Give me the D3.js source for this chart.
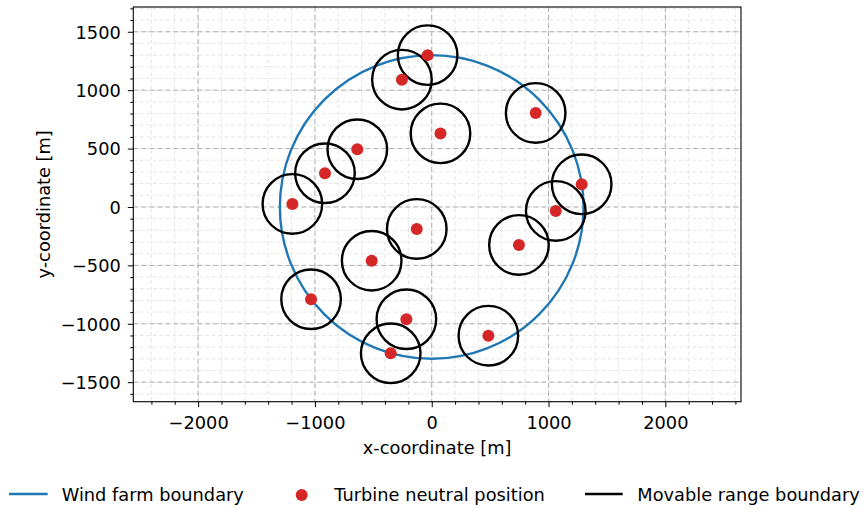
<!DOCTYPE html>
<html>
<head>
<meta charset="utf-8">
<script src="https://cdn.jsdelivr.net/npm/d3@7"></script>
<style>
  html, body { margin: 0; padding: 0; background: #fff; }
  svg { display: block; font-family: "DejaVu Sans", sans-serif; }
</style>
</head>
<body>
<svg id="chart" width="865" height="509"></svg>
<script>
// ---- data ----
const turbineX = [-35, -255, 75, 890, -637, -914, -1193, 1284, 1062, 747, -128, -514, -1033, -217, -351, 485];
const turbineY = [1300, 1090, 630, 805, 494, 289, 26, 194, -34, -325, -188, -460, -790, -961, -1253, -1102];
const boundaryCenter = [0, 0];
const boundaryRadius = 1300;
const movableRadius = 255;
const xTicks = [-2000, -1000, 0, 1000, 2000];
const yTicks = [-1500, -1000, -500, 0, 500, 1000, 1500];
const xDomain = [-2555, 2648];
const yDomain = [-1667, 1712];
const legendLabels = ["Wind farm boundary", "Turbine neutral position", "Movable range boundary"];
const xLabel = "x-coordinate [m]";
const yLabel = "y-coordinate [m]";

// ---- layout ----
const svg = d3.select("#chart");
const L = 133.3, T = 7, R = 741, B = 401.7;
const x = d3.scaleLinear().domain(xDomain).range([L, R]);
const y = d3.scaleLinear().domain(yDomain).range([B, T]);
const blue = "#1f77b4", red = "#d62728";
const fs = 17.8;

const xMinor = d3.range(Math.ceil(xDomain[0] / 200) * 200, xDomain[1], 200);
const yMinor = d3.range(Math.ceil(yDomain[0] / 100) * 100, yDomain[1], 100);

svg.append("defs").append("clipPath").attr("id", "clip")
  .append("rect").attr("x", L).attr("y", T).attr("width", R - L).attr("height", B - T);

const grid = svg.append("g");
grid.selectAll(".mgx").data(xMinor).enter().append("line")
  .attr("x1", d => x(d)).attr("x2", d => x(d)).attr("y1", T).attr("y2", B)
  .attr("stroke", "#e4e4e4").attr("stroke-width", 0.9).attr("stroke-dasharray", "4,2.5");
grid.selectAll(".mgy").data(yMinor).enter().append("line")
  .attr("y1", d => y(d)).attr("y2", d => y(d)).attr("x1", L).attr("x2", R)
  .attr("stroke", "#e4e4e4").attr("stroke-width", 0.9).attr("stroke-dasharray", "4,2.5");
grid.selectAll(".gx").data(xTicks).enter().append("line")
  .attr("x1", d => x(d)).attr("x2", d => x(d)).attr("y1", T).attr("y2", B)
  .attr("stroke", "#b0b0b0").attr("stroke-width", 1).attr("stroke-dasharray", "5,3");
grid.selectAll(".gy").data(yTicks).enter().append("line")
  .attr("y1", d => y(d)).attr("y2", d => y(d)).attr("x1", L).attr("x2", R)
  .attr("stroke", "#b0b0b0").attr("stroke-width", 1).attr("stroke-dasharray", "5,3");

const plot = svg.append("g").attr("clip-path", "url(#clip)");
plot.append("circle")
  .attr("cx", x(boundaryCenter[0])).attr("cy", y(boundaryCenter[1]))
  .attr("r", x(boundaryRadius) - x(0))
  .attr("fill", "none").attr("stroke", blue).attr("stroke-width", 2.4);

const turbines = turbineX.map((v, i) => ({ x: v, y: turbineY[i] }));
plot.selectAll(".mr").data(turbines).enter().append("circle")
  .attr("cx", d => x(d.x)).attr("cy", d => y(d.y))
  .attr("r", x(movableRadius) - x(0))
  .attr("fill", "none").attr("stroke", "#000").attr("stroke-width", 2.4);
plot.selectAll(".tb").data(turbines).enter().append("circle")
  .attr("cx", d => x(d.x)).attr("cy", d => y(d.y)).attr("r", 6)
  .attr("fill", red);

const fmt = d => d3.format("d")(d).replace("-", "\u2212");
const xAxis = d3.axisBottom(x).tickValues(xTicks).tickSize(5.5).tickPadding(5).tickFormat(fmt);
const yAxis = d3.axisLeft(y).tickValues(yTicks).tickSize(5.5).tickPadding(5).tickFormat(fmt);
const xMinorAxis = d3.axisBottom(x).tickValues(xMinor.filter(v => xTicks.indexOf(v) < 0)).tickSize(3).tickFormat("");
const yMinorAxis = d3.axisLeft(y).tickValues(yMinor.filter(v => yTicks.indexOf(v) < 0)).tickSize(3).tickFormat("");

function styleAxis(g) {
  g.select(".domain").remove();
  g.selectAll("line").attr("stroke", "#000").attr("stroke-width", 1);
  g.selectAll("text").attr("fill", "#000").attr("font-size", fs).attr("font-family", "DejaVu Sans");
}
svg.append("g").attr("transform", `translate(0,${B})`).call(xMinorAxis).call(styleAxis);
svg.append("g").attr("transform", `translate(${L},0)`).call(yMinorAxis).call(styleAxis);
const gx = svg.append("g").attr("transform", `translate(0,${B})`).call(xAxis).call(styleAxis);
gx.selectAll("text").attr("dy", null).attr("y", 27.6);
const gy = svg.append("g").attr("transform", `translate(${L},0)`).call(yAxis).call(styleAxis);
gy.selectAll("text").attr("dy", "0.36em").attr("x", -12.5);

svg.append("rect").attr("x", L).attr("y", T).attr("width", R - L).attr("height", B - T)
  .attr("fill", "none").attr("stroke", "#000").attr("stroke-width", 1.1);

svg.append("text").attr("x", (L + R) / 2).attr("y", 453.5).attr("text-anchor", "middle")
  .attr("font-size", fs).attr("fill", "#000").text(xLabel);
svg.append("text").attr("transform", `translate(50,${(T + B) / 2}) rotate(-90)`)
  .attr("text-anchor", "middle").attr("font-size", fs).attr("fill", "#000").text(yLabel);

const lg = svg.append("g");
const ly = 494;
lg.append("line").attr("x1", 9).attr("x2", 47.7).attr("y1", ly).attr("y2", ly)
  .attr("stroke", blue).attr("stroke-width", 2.4);
lg.append("text").attr("x", 61.7).attr("y", 501).attr("font-size", fs).attr("fill", "#000").text(legendLabels[0]);
lg.append("circle").attr("cx", 301.7).attr("cy", ly + 1).attr("r", 6).attr("fill", red);
lg.append("text").attr("x", 334.3).attr("y", 501).attr("font-size", fs).attr("fill", "#000").text(legendLabels[1]);
lg.append("line").attr("x1", 585).attr("x2", 622.7).attr("y1", ly).attr("y2", ly)
  .attr("stroke", "#000").attr("stroke-width", 2.4);
lg.append("text").attr("x", 637.3).attr("y", 501).attr("font-size", fs).attr("fill", "#000").text(legendLabels[2]);
</script>
</body>
</html>
